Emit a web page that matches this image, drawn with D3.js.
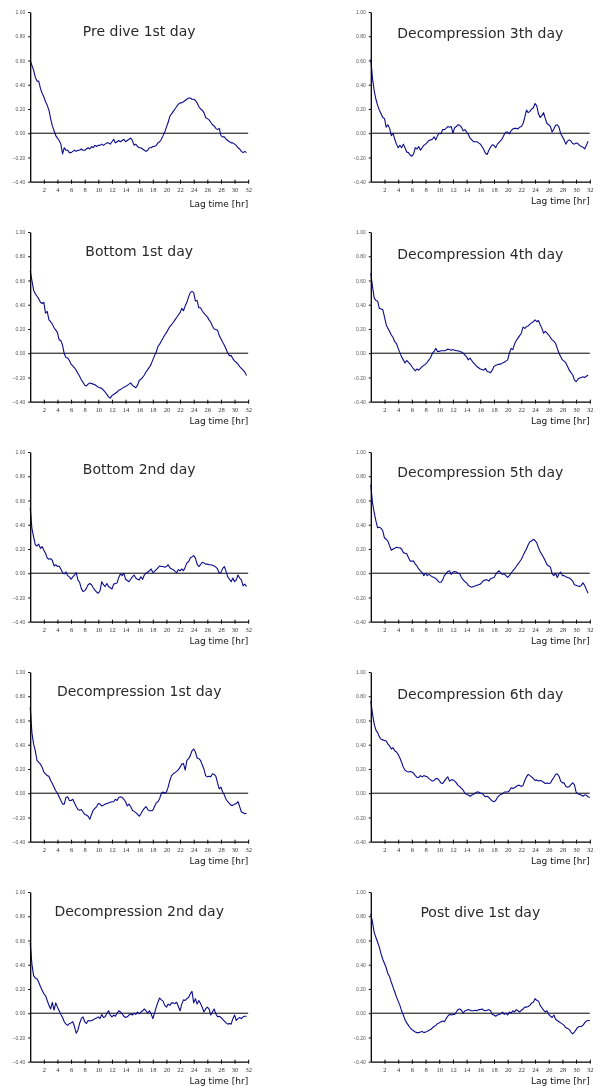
<!DOCTYPE html>
<html>
<head>
<meta charset="utf-8">
<script src="https://cdn.jsdelivr.net/npm/d3@7"></script>
<style>
  body { margin: 0; background: #fff; }
  svg { display: block; will-change: transform; }
</style>
</head>
<body>
<script>
// Autocorrelation of the recorded signal vs. lag time, one panel per dive phase.
// Each series is sampled every 0.25 hr starting at lag 0.
const lagStep = 0.25;

const preDive1st = [0.60,0.56,0.52,0.46,0.43,0.43,0.37,0.33,
0.30,0.26,0.23,0.19,0.12,0.06,0.02,-0.02,
-0.04,-0.06,-0.09,-0.17,-0.12,-0.14,-0.14,-0.16,
-0.16,-0.15,-0.14,-0.15,-0.14,-0.14,-0.13,-0.14,
-0.14,-0.13,-0.12,-0.13,-0.11,-0.12,-0.10,-0.11,
-0.10,-0.10,-0.09,-0.10,-0.09,-0.08,-0.08,-0.09,
-0.07,-0.05,-0.08,-0.07,-0.06,-0.07,-0.06,-0.05,
-0.07,-0.06,-0.05,-0.04,-0.06,-0.10,-0.09,-0.11,
-0.12,-0.12,-0.13,-0.14,-0.15,-0.14,-0.12,-0.12,
-0.11,-0.11,-0.10,-0.08,-0.07,-0.05,-0.02,0.01,
0.05,0.09,0.14,0.16,0.18,0.20,0.22,0.24,
0.25,0.25,0.26,0.27,0.28,0.29,0.29,0.28,
0.28,0.27,0.25,0.22,0.20,0.19,0.17,0.13,
0.12,0.11,0.09,0.07,0.06,0.04,0.03,0.04,
-0.02,-0.03,-0.03,-0.05,-0.06,-0.07,-0.08,-0.08,
-0.09,-0.10,-0.12,-0.13,-0.15,-0.16,-0.15,-0.16];

const bottom1st = [0.68,0.60,0.52,0.49,0.47,0.45,0.42,0.41,
0.42,0.33,0.345,0.275,0.26,0.24,0.21,0.19,
0.17,0.11,0.105,0.065,-0.005,-0.035,-0.04,-0.06,
-0.09,-0.105,-0.12,-0.14,-0.165,-0.19,-0.22,-0.24,
-0.265,-0.27,-0.255,-0.245,-0.25,-0.255,-0.26,-0.27,
-0.28,-0.285,-0.29,-0.305,-0.32,-0.34,-0.36,-0.37,
-0.35,-0.34,-0.33,-0.32,-0.305,-0.30,-0.29,-0.28,
-0.275,-0.265,-0.255,-0.245,-0.265,-0.275,-0.285,-0.265,
-0.225,-0.215,-0.20,-0.18,-0.155,-0.135,-0.115,-0.09,
-0.055,-0.02,0.01,0.055,0.075,0.10,0.125,0.15,
0.17,0.195,0.22,0.235,0.255,0.275,0.295,0.315,
0.335,0.37,0.35,0.39,0.42,0.465,0.50,0.51,
0.50,0.43,0.435,0.375,0.375,0.35,0.33,0.315,
0.30,0.275,0.255,0.225,0.20,0.195,0.19,0.145,
0.12,0.09,0.065,0.035,0.0,-0.02,-0.02,-0.045,
-0.065,-0.075,-0.09,-0.11,-0.125,-0.14,-0.155,-0.185];

const bottom2nd = [0.54,0.37,0.30,0.235,0.225,0.24,0.205,0.22,
0.19,0.165,0.125,0.115,0.12,0.105,0.06,0.07,
0.055,0.06,0.035,0.005,-0.005,0.01,-0.02,-0.03,
-0.05,-0.03,-0.015,0.005,-0.055,-0.075,-0.125,-0.15,
-0.145,-0.125,-0.095,-0.085,-0.095,-0.12,-0.14,-0.155,
-0.165,-0.145,-0.07,-0.095,-0.11,-0.085,-0.11,-0.12,
-0.13,-0.09,-0.085,-0.08,-0.035,-0.005,-0.02,0.0,
-0.05,-0.06,-0.07,-0.05,-0.03,-0.015,-0.04,-0.05,
-0.055,-0.03,-0.05,-0.015,0.0,0.01,0.02,0.035,
0.005,0.015,0.03,0.045,0.06,0.055,0.055,0.05,
0.055,0.07,0.045,0.035,0.03,0.015,0.005,0.03,
0.02,0.035,0.02,0.05,0.085,0.095,0.125,0.135,
0.145,0.125,0.075,0.055,0.07,0.09,0.085,0.075,
0.075,0.07,0.07,0.065,0.06,0.05,0.035,0.0,
0.005,0.04,0.055,0.015,-0.03,-0.05,-0.07,-0.04,
-0.07,-0.055,-0.015,-0.04,-0.055,-0.105,-0.09,-0.11];

const decompression1st = [0.71,0.50,0.405,0.35,0.27,0.255,0.24,0.215,
0.175,0.16,0.145,0.14,0.105,0.08,0.05,0.02,
0.0,-0.03,-0.06,-0.09,-0.09,-0.035,-0.03,-0.06,
-0.06,-0.05,-0.08,-0.11,-0.135,-0.14,-0.135,-0.155,
-0.175,-0.18,-0.19,-0.215,-0.175,-0.14,-0.125,-0.11,
-0.085,-0.09,-0.105,-0.10,-0.09,-0.085,-0.08,-0.075,
-0.07,-0.07,-0.05,-0.06,-0.035,-0.03,-0.035,-0.05,
-0.07,-0.105,-0.09,-0.11,-0.14,-0.15,-0.16,-0.175,
-0.19,-0.17,-0.145,-0.125,-0.11,-0.135,-0.145,-0.145,
-0.14,-0.11,-0.08,-0.07,-0.045,0.0,0.01,0.0,
0.01,0.05,0.105,0.145,0.16,0.17,0.18,0.195,
0.215,0.24,0.245,0.19,0.27,0.285,0.31,0.35,
0.365,0.34,0.29,0.285,0.27,0.235,0.20,0.145,
0.135,0.14,0.135,0.16,0.155,0.14,0.085,0.035,
0.05,0.01,-0.015,-0.05,-0.07,-0.085,-0.10,-0.10,
-0.09,-0.085,-0.07,-0.11,-0.155,-0.16,-0.17,-0.165];

const decompression2nd = [0.58,0.405,0.31,0.29,0.285,0.255,0.22,0.19,
0.16,0.145,0.105,0.065,0.035,0.09,0.025,0.085,
0.05,0.02,-0.01,-0.035,-0.07,-0.09,-0.10,-0.085,
-0.08,-0.07,-0.11,-0.165,-0.14,-0.085,-0.045,-0.03,
-0.07,-0.085,-0.06,-0.065,-0.06,-0.055,-0.045,-0.04,
-0.03,-0.045,-0.01,-0.035,-0.03,0.0,0.02,-0.015,
-0.03,-0.015,-0.025,0.0,0.02,0.01,-0.005,-0.025,
-0.035,-0.03,-0.015,-0.005,-0.015,0.0,-0.01,0.01,
-0.005,0.01,0.02,0.035,0.02,0.0,0.02,-0.005,
-0.045,0.0,0.05,0.09,0.125,0.11,0.10,0.065,
0.05,0.075,0.065,0.085,0.085,0.08,0.09,0.055,
0.02,0.075,0.11,0.105,0.12,0.13,0.16,0.18,
0.085,0.12,0.075,0.105,0.08,0.05,0.01,0.035,
0.05,0.035,-0.015,0.01,0.035,-0.005,-0.03,-0.025,
-0.035,-0.05,-0.065,-0.08,-0.09,-0.085,-0.09,-0.045,
-0.015,-0.06,-0.045,-0.035,-0.045,-0.03,-0.025,-0.025];

const decompression3th = [0.61,0.45,0.35,0.28,0.23,0.19,0.16,0.13,
0.12,0.05,0.07,0.04,-0.02,0.0,-0.05,-0.09,
-0.12,-0.10,-0.12,-0.09,-0.12,-0.155,-0.16,-0.18,
-0.19,-0.17,-0.12,-0.13,-0.11,-0.14,-0.12,-0.10,
-0.09,-0.075,-0.06,-0.055,-0.05,-0.03,-0.055,-0.02,
0.0,-0.005,0.03,0.03,0.04,0.055,0.05,0.055,
0.0,0.045,0.055,0.07,0.065,0.05,0.02,0.03,
0.01,-0.01,-0.04,-0.055,-0.07,-0.07,-0.07,-0.08,
-0.09,-0.11,-0.135,-0.165,-0.175,-0.14,-0.115,-0.095,
-0.10,-0.12,-0.09,-0.075,-0.06,-0.04,-0.01,0.01,
0.01,-0.005,0.02,0.035,0.04,0.04,0.035,0.05,
0.055,0.08,0.13,0.19,0.17,0.18,0.20,0.21,
0.245,0.225,0.16,0.13,0.145,0.17,0.12,0.08,
0.07,0.055,0.01,0.035,0.065,0.07,0.05,-0.005,
-0.03,-0.055,-0.09,-0.065,-0.055,-0.065,-0.085,-0.09,
-0.08,-0.085,-0.10,-0.11,-0.115,-0.13,-0.10,-0.065];

const decompression4th = [0.66,0.55,0.455,0.435,0.43,0.37,0.365,0.36,
0.30,0.235,0.205,0.18,0.15,0.13,0.095,0.08,
0.04,0.005,-0.03,-0.055,-0.08,-0.06,-0.075,-0.09,
-0.11,-0.13,-0.145,-0.13,-0.14,-0.125,-0.11,-0.10,
-0.09,-0.075,-0.055,-0.035,0.0,0.015,0.04,0.015,
0.015,0.02,0.02,0.02,0.025,0.035,0.03,0.025,
0.03,0.025,0.02,0.02,0.015,0.01,0.0,-0.015,
-0.03,-0.055,-0.04,-0.06,-0.08,-0.095,-0.11,-0.12,
-0.13,-0.135,-0.14,-0.125,-0.15,-0.155,-0.16,-0.14,
-0.11,-0.10,-0.095,-0.09,-0.09,-0.08,-0.075,-0.065,
-0.055,0.0,0.04,0.03,0.075,0.105,0.125,0.145,
0.165,0.215,0.205,0.22,0.225,0.24,0.25,0.26,
0.275,0.26,0.27,0.235,0.205,0.165,0.18,0.165,
0.15,0.13,0.11,0.10,0.08,0.04,0.0,-0.03,
-0.055,-0.065,-0.08,-0.11,-0.14,-0.16,-0.18,-0.22,
-0.235,-0.215,-0.205,-0.20,-0.195,-0.20,-0.19,-0.18];

const decompression5th = [0.73,0.58,0.50,0.43,0.375,0.38,0.37,0.35,
0.29,0.28,0.265,0.225,0.19,0.20,0.205,0.215,
0.21,0.21,0.20,0.17,0.165,0.16,0.13,0.10,
0.10,0.10,0.075,0.06,0.035,0.02,0.005,-0.02,
0.0,-0.02,-0.01,-0.02,-0.03,-0.035,-0.045,-0.06,
-0.075,-0.075,-0.055,-0.02,-0.005,0.015,0.02,-0.01,
0.01,0.015,0.01,0.0,-0.005,-0.035,-0.055,-0.07,
-0.08,-0.10,-0.11,-0.115,-0.11,-0.105,-0.10,-0.095,
-0.09,-0.075,-0.06,-0.055,-0.055,-0.065,-0.045,-0.04,
-0.035,-0.01,0.01,0.02,0.0,-0.01,-0.005,-0.02,
-0.035,-0.02,0.0,0.02,0.035,0.055,0.075,0.095,
0.115,0.145,0.175,0.20,0.235,0.26,0.265,0.28,
0.27,0.25,0.21,0.18,0.155,0.13,0.10,0.07,
0.06,0.05,-0.005,-0.02,0.0,-0.035,-0.005,0.01,
-0.02,-0.02,-0.03,-0.035,-0.04,-0.05,-0.065,-0.095,
-0.10,-0.105,-0.11,-0.10,-0.08,-0.10,-0.135,-0.165];

const decompression6th = [0.76,0.655,0.57,0.52,0.50,0.465,0.445,0.44,
0.435,0.43,0.405,0.39,0.365,0.375,0.35,0.34,
0.32,0.29,0.255,0.215,0.19,0.18,0.175,0.18,
0.175,0.165,0.145,0.13,0.13,0.145,0.135,0.145,
0.14,0.135,0.12,0.11,0.10,0.105,0.12,0.12,
0.105,0.085,0.08,0.10,0.12,0.135,0.10,0.11,
0.11,0.10,0.085,0.065,0.055,0.04,0.025,0.0,
-0.01,-0.015,-0.025,-0.015,-0.01,0.0,0.01,0.01,
0.0,0.0,-0.015,-0.03,-0.025,-0.035,-0.05,-0.065,
-0.07,-0.06,-0.035,-0.02,-0.01,-0.005,0.01,0.01,
0.01,0.02,0.045,0.04,0.045,0.055,0.065,0.065,
0.055,0.065,0.105,0.135,0.155,0.145,0.135,0.12,
0.105,0.11,0.10,0.105,0.10,0.09,0.08,0.085,
0.08,0.085,0.11,0.13,0.155,0.16,0.14,0.10,
0.085,0.085,0.055,0.05,0.055,0.07,0.085,0.07,
0.01,-0.005,-0.01,-0.015,-0.025,-0.015,-0.015,-0.03,
-0.035];

const postDive1st = [0.82,0.75,0.665,0.625,0.585,0.545,0.49,0.445,
0.41,0.375,0.325,0.30,0.255,0.215,0.175,0.135,
0.10,0.065,0.02,-0.015,-0.055,-0.08,-0.10,-0.12,
-0.135,-0.145,-0.155,-0.16,-0.16,-0.155,-0.15,-0.16,
-0.155,-0.15,-0.14,-0.135,-0.12,-0.11,-0.10,-0.085,
-0.08,-0.07,-0.065,-0.07,-0.045,-0.025,-0.01,-0.015,
-0.01,-0.01,0.01,0.03,0.035,0.025,0.0,0.02,
0.025,0.03,0.025,0.02,0.02,0.025,0.02,0.03,
0.03,0.035,0.025,0.02,0.025,0.03,0.02,-0.01,
-0.015,-0.025,-0.015,-0.01,-0.005,0.01,-0.01,0.0,
-0.015,0.01,0.0,0.02,0.01,0.03,0.02,0.01,
0.025,0.035,0.05,0.05,0.055,0.065,0.085,0.09,
0.12,0.105,0.10,0.065,0.045,0.025,0.01,0.02,
-0.01,-0.025,-0.035,-0.015,-0.05,-0.06,-0.07,-0.08,
-0.09,-0.10,-0.12,-0.125,-0.135,-0.155,-0.17,-0.155,
-0.135,-0.115,-0.11,-0.11,-0.10,-0.08,-0.065,-0.06,
-0.06];

const panelTitles = [
  "Pre dive 1st day", "Bottom 1st day", "Bottom 2nd day",
  "Decompression 1st day", "Decompression 2nd day",
  "Decompression 3th day", "Decompression 4th day", "Decompression 5th day",
  "Decompression 6th day", "Post dive 1st day"
];
const panelSeries = [
  preDive1st, bottom1st, bottom2nd, decompression1st, decompression2nd,
  decompression3th, decompression4th, decompression5th, decompression6th, postDive1st
];

const yTickValues = [-0.4, -0.2, 0, 0.2, 0.4, 0.6, 0.8, 1.0];
const xTickValues = [2, 4, 6, 8, 10, 12, 14, 16, 18, 20, 22, 24, 26, 28, 30, 32];
const xAxisLabel = "Lag time [hr]";

// ---- layout ----
const width = 601, height = 1086;
const colLeft = [30.2, 370.8];
const colWidth = [218, 219];
const rowPitch = 220, firstTop = 12, plotHeight = 169.7;
const titleBaseline = [24.4, 24, 21.6, 23.7, 23.7, 25.7, 27, 25, 27.3, 25];
const labelBaseline = [25.5, 22.5, 22.5, 22.5, 22.5, 22.5, 22.5, 22.5, 22.5, 22.5];

const lineColor = "#0b0b8c";

const svg = d3.select("body").append("svg")
  .attr("width", width).attr("height", height);

panelSeries.forEach((values, i) => {
  const col = i < 5 ? 0 : 1;
  const row = i % 5;
  const left = colLeft[col];
  const top = firstTop + row * rowPitch;
  const w = colWidth[col];

  const x = d3.scaleLinear().domain([0, 32]).range([0, w]);
  const y = d3.scaleLinear().domain([-0.4, 1.0]).range([plotHeight, 0]);

  const g = svg.append("g").attr("transform", `translate(${left},${top})`);

  // title
  g.append("text")
    .attr("x", w / 2).attr("y", titleBaseline[i])
    .attr("text-anchor", "middle")
    .attr("font-family", "'DejaVu Sans', sans-serif")
    .attr("font-size", 14)
    .attr("fill", "#2a2a2a")
    .text(panelTitles[i]);

  // zero reference line
  g.append("line")
    .attr("x1", x(0)).attr("x2", x(32))
    .attr("y1", y(0)).attr("y2", y(0))
    .attr("stroke", "#000").attr("stroke-width", 1);

  // series
  const line = d3.line()
    .x((d, k) => x(k * lagStep))
    .y(d => y(d));
  g.append("path")
    .datum(values)
    .attr("fill", "none")
    .attr("stroke", lineColor)
    .attr("stroke-width", 1.1)
    .attr("stroke-linejoin", "round")
    .attr("d", line);

  // y axis
  const yAxis = g.append("g")
    .call(d3.axisLeft(y).tickValues(yTickValues)
      .tickFormat(d3.format(".2f")).tickSizeInner(2).tickSizeOuter(0).tickPadding(3));
  yAxis.select(".domain").attr("stroke", "#000").attr("stroke-width", 1.3);
  yAxis.selectAll(".tick line").attr("stroke", "#000");
  yAxis.selectAll(".tick text")
    .attr("font-family", "'Liberation Sans', Arial, sans-serif")
    .attr("font-size", 5)
    .attr("fill", "#555");

  // x axis
  const xAxis = g.append("g")
    .attr("transform", `translate(0,${plotHeight})`)
    .call(d3.axisBottom(x).tickValues(xTickValues)
      .tickFormat(d3.format("d")).tickSizeInner(2).tickSizeOuter(0).tickPadding(4));
  xAxis.select(".domain").attr("stroke", "#000").attr("stroke-width", 1.3);
  xAxis.selectAll(".tick line").attr("stroke", "#000").attr("y1", -2);
  xAxis.selectAll(".tick text")
    .attr("font-family", "'Liberation Serif', 'Times New Roman', serif")
    .attr("font-size", 6.5)
    .attr("fill", "#333");

  // axis title
  g.append("text")
    .attr("x", w).attr("y", plotHeight + labelBaseline[i])
    .attr("text-anchor", "end")
    .attr("font-family", "'DejaVu Sans', sans-serif")
    .attr("font-size", 9)
    .attr("fill", "#111")
    .text(xAxisLabel);
});
</script>
</body>
</html>
